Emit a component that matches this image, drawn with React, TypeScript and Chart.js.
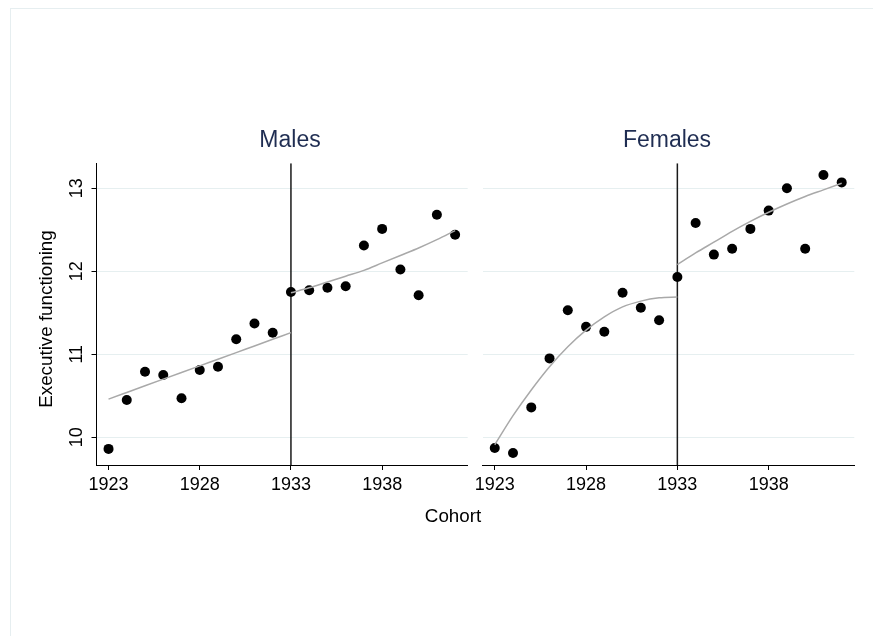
import React, { useEffect, useRef } from "react";
import { Chart, registerables } from "chart.js";

Chart.register(...registerables);

// ---------- data ----------
const cohorts = [1923, 1924, 1925, 1926, 1927, 1928, 1929, 1930, 1931, 1932, 1933, 1934, 1935, 1936, 1937, 1938, 1939, 1940, 1941, 1942];
const malesScore = [9.86, 10.45, 10.79, 10.75, 10.47, 10.81, 10.85, 11.18, 11.37, 11.26, 11.75, 11.77, 11.8, 11.82, 12.31, 12.51, 12.02, 11.71, 12.68, 12.44];
const femalesScore = [9.87, 9.81, 10.36, 10.95, 11.53, 11.33, 11.27, 11.74, 11.56, 11.41, 11.93, 12.58, 12.2, 12.27, 12.51, 12.73, 13.0, 12.27, 13.16, 13.07];

const preYears = [1923, 1924, 1925, 1926, 1927, 1928, 1929, 1930, 1931, 1932, 1933];
const postYears = [1933, 1934, 1935, 1936, 1937, 1938, 1939, 1940, 1941, 1942];
const malesFitPre = [10.46, 10.54, 10.62, 10.7, 10.78, 10.86, 10.94, 11.02, 11.1, 11.18, 11.26];
const malesFitPost = [11.74, 11.8, 11.87, 11.94, 12.01, 12.1, 12.19, 12.28, 12.38, 12.49];
const femalesFitPre = [9.91, 10.26, 10.57, 10.85, 11.09, 11.29, 11.45, 11.57, 11.64, 11.68, 11.69];
const femalesFitPost = [12.08, 12.22, 12.35, 12.48, 12.6, 12.71, 12.81, 12.9, 12.98, 13.06];

const cutoffYear = 1933;
const xTickValues = [1923, 1928, 1933, 1938];
const yTickValues = [10, 11, 12, 13];
const xAxisRange = [1922.34, 1942.69];
const yAxisRange = [9.666, 13.3];

const panelTitles = ["Males", "Females"];
const yAxisTitle = "Executive functioning";
const xAxisTitle = "Cohort";

// ---------- layout / style ----------
const FONT = '"Liberation Sans", Arial, Helvetica, sans-serif';
const CANVAS_TOP = 100;
const CANVAS_BOTTOM = 535;
const PLOT_TOP = 163.3;
const PLOT_BOTTOM = 465;
const TITLE_COLOR = "#1f2d52";
const GRID_COLOR = "#e6eff0";
const FIT_COLOR = "#a9a9a9";

type PanelGeom = {
  canvasLeft: number;
  canvasWidth: number;
  plotLeft: number;
  plotRight: number;
  titleX: number;
  showY: boolean;
};

const panelGeoms: PanelGeom[] = [
  { canvasLeft: 0, canvasWidth: 485, plotLeft: 96.5, plotRight: 467.7, titleX: 290, showY: true },
  { canvasLeft: 455, canvasWidth: 418, plotLeft: 482.7, plotRight: 854.3, titleX: 667, showY: false },
];

function Panel({ idx }: { idx: number }) {
  const ref = useRef<HTMLCanvasElement | null>(null);
  const g = panelGeoms[idx];
  const height = CANVAS_BOTTOM - CANVAS_TOP;

  useEffect(() => {
    if (!ref.current) return;
    const scores = idx === 0 ? malesScore : femalesScore;
    const fitPre = idx === 0 ? malesFitPre : femalesFitPre;
    const fitPost = idx === 0 ? malesFitPost : femalesFitPost;
    const title = panelTitles[idx];

    const textPlugin = {
      id: "panelText" + idx,
      afterDraw(chart: any) {
        const { ctx, scales } = chart;
        ctx.save();
        // panel title
        ctx.fillStyle = TITLE_COLOR;
        ctx.font = `23px ${FONT}`;
        ctx.textAlign = "center";
        ctx.textBaseline = "alphabetic";
        ctx.fillText(title, g.titleX - g.canvasLeft, 147 - CANVAS_TOP);

        // x tick labels
        ctx.fillStyle = "#000";
        ctx.font = `18px ${FONT}`;
        for (const v of xTickValues) {
          const x = scales.x.getPixelForValue(v);
          ctx.fillText(String(v), x, 490 - CANVAS_TOP);
        }

        if (g.showY) {
          // y tick labels (rotated)
          for (const v of yTickValues) {
            const y = scales.y.getPixelForValue(v);
            ctx.save();
            ctx.translate(81.7 - g.canvasLeft, y);
            ctx.rotate(-Math.PI / 2);
            ctx.fillText(String(v), 0, 0);
            ctx.restore();
          }
          // y axis title
          ctx.font = `18.8px ${FONT}`;
          ctx.save();
          ctx.translate(52.3 - g.canvasLeft, 319 - CANVAS_TOP);
          ctx.rotate(-Math.PI / 2);
          ctx.fillText(yAxisTitle, 0, 0);
          ctx.restore();
          // x axis title (shared)
          ctx.fillText(xAxisTitle, 453 - g.canvasLeft, 522 - CANVAS_TOP);
        }
        ctx.restore();
      },
    };

    const chart = new Chart(ref.current, {
      type: "scatter",
      data: {
        datasets: [
          {
            label: "cutoff",
            data: [
              { x: cutoffYear, y: yAxisRange[0] },
              { x: cutoffYear, y: yAxisRange[1] },
            ],
            showLine: true,
            borderColor: "#1a1a1a",
            borderWidth: 1.5,
            pointRadius: 0,
            order: 3,
          },
          {
            label: "score",
            data: cohorts.map((c, i) => ({ x: c, y: scores[i] })),
            backgroundColor: "#000",
            borderWidth: 0,
            pointRadius: 5,
            pointHoverRadius: 5,
            order: 2,
          },
          {
            label: "fit pre",
            data: preYears.map((c, i) => ({ x: c, y: fitPre[i] })),
            showLine: true,
            borderColor: FIT_COLOR,
            borderWidth: 1.5,
            pointRadius: 0,
            cubicInterpolationMode: "monotone",
            order: 1,
          },
          {
            label: "fit post",
            data: postYears.map((c, i) => ({ x: c, y: fitPost[i] })),
            showLine: true,
            borderColor: FIT_COLOR,
            borderWidth: 1.5,
            pointRadius: 0,
            cubicInterpolationMode: "monotone",
            order: 1,
          },
        ],
      },
      options: {
        responsive: false,
        animation: false,
        events: [],
        layout: {
          padding: {
            top: PLOT_TOP - CANVAS_TOP,
            bottom: 0,
            left: g.showY ? 0 : g.plotLeft - g.canvasLeft,
            right: g.canvasLeft + g.canvasWidth - g.plotRight,
          },
        },
        plugins: {
          legend: { display: false },
          title: { display: false },
          tooltip: { enabled: false },
        },
        scales: {
          x: {
            type: "linear",
            min: xAxisRange[0],
            max: xAxisRange[1],
            afterBuildTicks: (s: any) => {
              s.ticks = xTickValues.map((v) => ({ value: v }));
            },
            afterFit: (s: any) => {
              s.height = CANVAS_BOTTOM - PLOT_BOTTOM;
            },
            ticks: { display: false },
            grid: {
              drawOnChartArea: false,
              drawTicks: true,
              tickLength: 5,
              tickColor: "#000",
              tickWidth: 1,
            },
            border: { display: true, color: "#000", width: 1 },
          },
          y: {
            type: "linear",
            min: yAxisRange[0],
            max: yAxisRange[1],
            afterBuildTicks: (s: any) => {
              s.ticks = yTickValues.map((v) => ({ value: v }));
            },
            afterFit: (s: any) => {
              s.width = g.showY ? g.plotLeft - g.canvasLeft : 0;
            },
            ticks: { display: false },
            grid: {
              color: GRID_COLOR,
              lineWidth: 1,
              drawTicks: g.showY,
              tickLength: 5,
              tickColor: "#000",
              tickWidth: 1,
            },
            border: { display: g.showY, color: "#000", width: 1 },
          },
        },
      },
      plugins: [textPlugin],
    } as any);

    return () => chart.destroy();
  }, [idx]);

  return (
    <canvas
      ref={ref}
      width={g.canvasWidth}
      height={height}
      style={{
        position: "absolute",
        left: g.canvasLeft,
        top: CANVAS_TOP,
        width: g.canvasWidth,
        height,
      }}
    />
  );
}

export default function App() {
  return (
    <div
      style={{
        position: "absolute",
        left: 0,
        top: 0,
        width: 873,
        height: 636,
        background: "#fff",
        overflow: "hidden",
      }}
    >
      <div
        style={{
          position: "absolute",
          left: 10,
          top: 8,
          right: -2,
          bottom: -2,
          borderLeft: "1px solid #e6eef0",
          borderTop: "1px solid #e6eef0",
        }}
      />
      <Panel idx={0} />
      <Panel idx={1} />
    </div>
  );
}
